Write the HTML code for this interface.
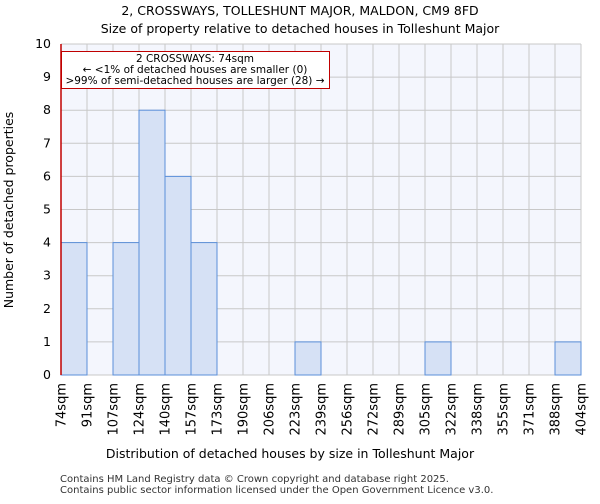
<!DOCTYPE html>
<html><head><meta charset="utf-8"><style>
body{margin:0;background:#fff;font-family:"DejaVu Sans","Liberation Sans",sans-serif;}
svg text{font-family:"DejaVu Sans","Liberation Sans",sans-serif;}
</style></head><body>
<svg id="chart" width="600" height="500" xmlns="http://www.w3.org/2000/svg">
<text x="300" y="15" font-size="12.5" text-anchor="middle">2, CROSSWAYS, TOLLESHUNT MAJOR, MALDON, CM9 8FD</text>
<text x="300" y="33" font-size="12.5" text-anchor="middle">Size of property relative to detached houses in Tolleshunt Major</text>
<rect x="61" y="44" width="520" height="331" fill="#f4f6fd"/>
<g id="grid"></g>
<g id="bars"></g>
<g id="yticks"></g>
<g id="xticks"></g>
<line x1="61" y1="44" x2="61" y2="375" stroke="#c00000" stroke-width="1.5"/>
<g>
<rect x="61.5" y="51.5" width="268" height="37" fill="#fff" stroke="#c00000" stroke-width="1"/>
<text x="195" y="62" font-size="10.5" text-anchor="middle">2 CROSSWAYS: 74sqm</text>
<text x="195" y="73" font-size="10.5" text-anchor="middle">← &lt;1% of detached houses are smaller (0)</text>
<text x="195" y="84" font-size="10.5" text-anchor="middle">&gt;99% of semi-detached houses are larger (28) →</text>
</g>
<text x="290" y="458" font-size="12.5" text-anchor="middle">Distribution of detached houses by size in Tolleshunt Major</text>
<text transform="translate(13,210) rotate(-90)" font-size="12.5" text-anchor="middle">Number of detached properties</text>
<text x="60" y="482" font-size="10" fill="#333">Contains HM Land Registry data © Crown copyright and database right 2025.</text>
<text x="60" y="493" font-size="10" fill="#333">Contains public sector information licensed under the Open Government Licence v3.0.</text>
</svg>
<script>
const binLabels=["74sqm","91sqm","107sqm","124sqm","140sqm","157sqm","173sqm","190sqm","206sqm","223sqm","239sqm","256sqm","272sqm","289sqm","305sqm","322sqm","338sqm","355sqm","371sqm","388sqm","404sqm"];
const counts=[4,0,4,8,6,4,0,0,0,1,0,0,0,0,1,0,0,0,0,1];
const yTicks=[0,1,2,3,4,5,6,7,8,9,10];
const NS="http://www.w3.org/2000/svg";
const X0=61,X1=581,Y0=375,Y1=44,YMAX=10;
const bw=(X1-X0)/counts.length;
const xs=i=>X0+i*bw;
const ys=v=>Y0-(v/YMAX)*(Y0-Y1);
function mk(t,a,p){const e=document.createElementNS(NS,t);for(const k in a)e.setAttribute(k,a[k]);p.appendChild(e);return e;}
const grid=document.getElementById('grid'),bars=document.getElementById('bars'),yt=document.getElementById('yticks'),xt=document.getElementById('xticks');
yTicks.forEach(v=>{
 const l=mk('line',{x1:X0,x2:X1,y1:ys(v),y2:ys(v),stroke:'#c8c8c8','stroke-width':1},grid);
 
 
 const t=mk('text',{x:X0-10,y:ys(v)+4,'font-size':12.5,'text-anchor':'end'},yt);
 t.textContent=v;
 
 
});
binLabels.forEach((s,i)=>{
 const l=mk('line',{x1:xs(i),x2:xs(i),y1:Y1,y2:Y0,stroke:'#c8c8c8','stroke-width':1},grid);
 
 
 const t=mk('text',{transform:`translate(${xs(i)+4.5},${Y0+8}) rotate(-90)`,'font-size':13,'text-anchor':'end'},xt);
 t.textContent=s;
 
 
});
counts.forEach((c,i)=>{
 if(c<=0)return;
 const r=mk('rect',{x:xs(i),y:ys(c),width:bw,height:Y0-ys(c),fill:'#d6e1f5',stroke:'#5b8fd9','stroke-width':1},bars);
 
 
});
</script>
</body></html>
